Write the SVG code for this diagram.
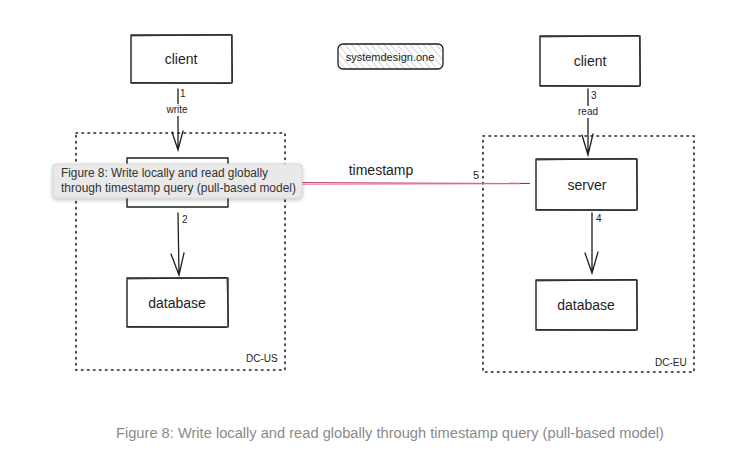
<svg xmlns="http://www.w3.org/2000/svg" width="746" height="459" viewBox="0 0 746 459">
<defs>
<style>
.box{fill:#fff;stroke:#1e1e1e;stroke-width:1.4;stroke-linejoin:round}
.sk{fill:none;stroke:#1e1e1e;stroke-width:0.8}
.dc{fill:none;stroke:#1e1e1e;stroke-width:1.6;stroke-dasharray:1.5 4.5;stroke-linecap:round}
.lbl{font-family:"Liberation Sans",Arial,sans-serif;font-size:14px;fill:#1e1e1e;text-anchor:middle}
.sm{font-family:"Liberation Sans",Arial,sans-serif;font-size:10px;fill:#1e1e1e}
.edge{fill:none;stroke:#1e1e1e;stroke-width:1.3;stroke-linecap:round}
.cap{font-family:"Liberation Sans",Arial,sans-serif;font-size:14px;fill:#8a8a8a}
.tip{font-family:"Liberation Sans",Arial,sans-serif;font-size:12px;fill:#333}
</style>
<pattern id="hatch" width="5" height="5" patternUnits="userSpaceOnUse" patternTransform="rotate(-40)">
<rect width="5" height="5" fill="#fff"/>
<line x1="0" y1="0" x2="0" y2="5" stroke="#c8c8c8" stroke-width="1.5"/>
</pattern>
<filter id="shadow" x="-10%" y="-20%" width="120%" height="150%">
<feDropShadow dx="0" dy="1.5" stdDeviation="2" flood-color="#000" flood-opacity="0.25"/>
</filter>
</defs>

<g id="dc-us">
<rect class="dc" x="76" y="133" width="209" height="237"/>
<text class="sm" x="246" y="362">DC-US</text>
</g>
<g id="dc-eu">
<rect class="dc" x="483" y="136" width="211" height="236"/>
<text class="sm" x="655" y="366">DC-EU</text>
</g>

<g id="watermark">
<rect x="338" y="44" width="105" height="25" rx="5" fill="url(#hatch)" stroke="#1e1e1e" stroke-width="1.3"/>
<text class="lbl" x="390" y="61" style="font-size:11px">systemdesign.one</text>
</g>

<g id="client-us">
<rect class="box" x="131" y="35" width="101" height="48"/>
<path class="sk" d="M132,36 L231,34.5 M231.5,36 L232.5,82 M230,83.5 L131.5,82.5"/>
<text class="lbl" x="181" y="64">client</text>
</g>
<g id="database-us">
<rect class="box" x="127" y="278" width="101" height="49"/>
<path class="sk" d="M128,279 L227,277.5 M227,279 L228.5,326 M226,327.5 L127,326.5"/>
<text class="lbl" x="177" y="308">database</text>
</g>
<g id="server-us">
<rect class="box" x="127" y="158" width="101" height="49"/>
</g>

<g id="client-eu">
<rect class="box" x="540" y="36" width="100" height="50"/>
<path class="sk" d="M541,37 L639,35.5 M639.5,37 L640.5,85 M638,86.5 L540.5,85.5"/>
<text class="lbl" x="590" y="66">client</text>
</g>
<g id="server-eu">
<rect class="box" x="536" y="159" width="101" height="51"/>
<path class="sk" d="M537,160 L636,158.5 M636.5,160 L637.5,209 M635,210.5 L536.5,209.5"/>
<text class="lbl" x="587" y="190">server</text>
</g>
<g id="database-eu">
<rect class="box" x="536" y="280" width="101" height="50"/>
<path class="sk" d="M537,281 L636,279.5 M636.5,281 L637.5,329 M635,330.5 L536.5,329.5"/>
<text class="lbl" x="586" y="310">database</text>
</g>

<g id="connectors">
<path class="edge" d="M178,89 L178,150 M172,132 L178,150 L183,131"/>
<rect x="163" y="104" width="30" height="12" fill="#fff"/>
<text class="sm" x="180" y="97">1</text>
<text class="sm" x="177" y="113" text-anchor="middle">write</text>

<path class="edge" d="M178,213 L179,275 M171,254 L179,275 L184,253"/>
<text class="sm" x="182" y="223">2</text>

<path class="edge" d="M588,89 L588,155 M582,135 L588,155 L593,134"/>
<rect x="575" y="106" width="27" height="12" fill="#fff"/>
<text class="sm" x="591" y="99">3</text>
<text class="sm" x="588" y="115" text-anchor="middle">read</text>

<path class="edge" d="M592,213 L592,273 M585,253 L592,273 L598,252"/>
<text class="sm" x="596" y="222">4</text>

<path d="M240,182.5 L530,183.5" fill="none" stroke="#c2185b" stroke-width="1.1"/>
<path d="M240,184.5 L520,183.8" fill="none" stroke="#e08aa8" stroke-width="1"/>
<text class="lbl" x="381" y="175">timestamp</text>
<text class="sm" x="473" y="179" style="font-size:11px">5</text>
</g>

<g id="tooltip">
<rect x="53" y="164" width="249" height="34" rx="4" fill="#e9e9e9" stroke="#d0d0d0" stroke-width="0.8" filter="url(#shadow)"/>
<text class="tip" x="61" y="177" textLength="207" lengthAdjust="spacingAndGlyphs">Figure 8: Write locally and read globally</text>
<text class="tip" x="61" y="192" textLength="235" lengthAdjust="spacingAndGlyphs">through timestamp query (pull-based model)</text>
</g>

<text class="cap" x="116" y="438" textLength="548" lengthAdjust="spacingAndGlyphs">Figure 8: Write locally and read globally through timestamp query (pull-based model)</text>
</svg>
